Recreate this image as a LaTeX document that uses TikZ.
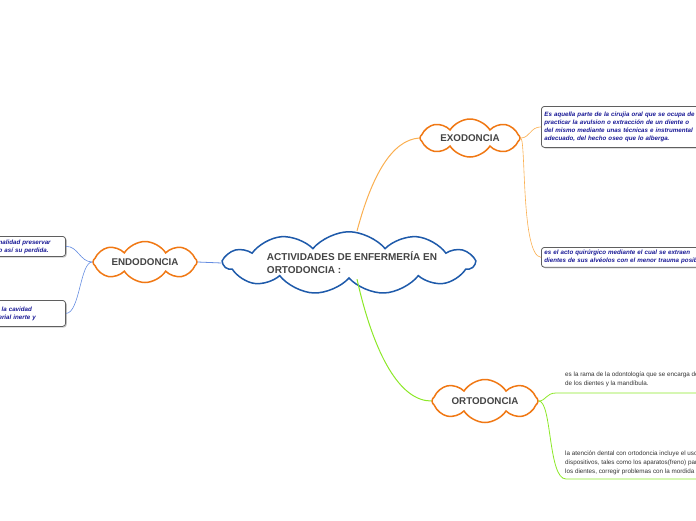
\documentclass[tikz,border=0pt]{standalone}
\usepackage{fontspec}
\setmainfont{Liberation Sans}
\usepackage{tikz}
\usetikzlibrary{shapes.symbols, shadows}
\definecolor{cloudblue}{RGB}{30, 90, 170}
\definecolor{cloudorange}{RGB}{240, 120, 20}
\definecolor{labelgray}{RGB}{68, 68, 68}
\definecolor{notegray}{RGB}{95, 95, 95}
\definecolor{notenavy}{RGB}{25, 25, 150}
\definecolor{exoline}{RGB}{250, 175, 80}
\definecolor{ortoline}{RGB}{140, 232, 40}
\definecolor{endoline}{RGB}{100, 140, 225}

\begin{document}
\begin{tikzpicture}[x=1pt, y=-1pt,
  maincloud/.style={cloud, cloud puffs=11, cloud puff arc=100, cloud ignores aspect,
              draw=cloudblue, line width=1.5pt, fill=white, inner sep=0pt,
              minimum width=250pt, minimum height=52pt,
              font=\fontsize{10}{13}\selectfont\bfseries, text=labelgray, align=left},
  topic/.style={cloud, cloud puffs=8, cloud puff arc=115, cloud ignores aspect,
              draw=cloudorange, line width=1.5pt, fill=white,
              minimum width=104pt, minimum height=41pt,
              font=\fontsize{9.8}{12}\selectfont\bfseries, text=labelgray},
  note/.style={draw=notegray, line width=0.8pt, rounded corners=3pt, fill=white,
              drop shadow={shadow xshift=1.2pt, shadow yshift=-1.2pt, fill=black!40},
              font=\fontsize{6.2}{8}\selectfont\bfseries\itshape, text=notenavy,
              align=left, inner sep=3pt},
  plain/.style={font=\fontsize{6.3}{8.6}\selectfont, text=black!80, align=left, inner sep=0pt},
  exolink/.style={exoline, line width=0.6pt},
  ortolink/.style={ortoline, line width=0.8pt},
  endolink/.style={endoline, line width=0.6pt}]
  \useasboundingbox (0,0) rectangle (696,520);
  \clip (0,0) rectangle (696,520);

  % central topic and branches
  \node[maincloud] (main) at (349,263) {\hspace*{6pt}ACTIVIDADES DE ENFERMERÍA EN\\\hspace*{6pt}ORTODONCIA :};
  \node[topic] (endo) at (145,262) {ENDODONCIA};
  \node[topic, minimum width=100pt, minimum height=38pt] (exo) at (470,138) {EXODONCIA};
  \node[topic, minimum width=106pt, minimum height=43pt] (orto) at (485,401) {ORTODONCIA};

  % notes
  \node[note, anchor=north west, text width=180pt, minimum height=41pt] (exonote1) at (541,106)
    {Es aquella parte de la cirujia oral que se ocupa de\\
     practicar la avulsion o extracción de un diente o\\
     del mismo mediante unas técnicas e instrumental\\
     adecuado, del hecho oseo que lo alberga.};
  \node[note, anchor=north west, text width=180pt, minimum height=19pt] (exonote2) at (541,247)
    {es el acto quirúrgico mediante el cual se extraen\\
     dientes de sus alvéolos con el menor trauma posible};
  \node[note, anchor=north east, text width=64pt, minimum height=20pt] (endonote1) at (66,236)
    {nalidad preservar\\o así su perdida.};
  \node[note, anchor=north east, text width=64pt, minimum height=26pt] (endonote2) at (66,300)
    {\hspace*{3pt}la cavidad\\erial inerte y};
  \node[plain, anchor=north west] (ortonote1) at (565,372)
    {es la rama de la odontología que se encarga de\\de los dientes y la mandíbula.};
  \node[plain, anchor=north west] (ortonote2) at (565,451)
    {la atención dental con ortodoncia incluye el uso\\
     dispositivos, tales como los aparatos(freno) para\\
     los dientes, corregir problemas con la mordida};
  \coordinate (u1) at (556,393);
  \coordinate (u1end) at (700,393);
  \coordinate (u2) at (566,479);
  \coordinate (u2end) at (700,479);

  % connectors
  \draw[endoline, line width=0.8pt] (main.west) -- (endo.east);
  \draw[exoline, line width=1pt] ([xshift=8pt]main.north) .. controls (372,175) and (392,140) .. (exo.west);
  \draw[ortolink, line width=1pt] ([xshift=8pt]main.south) .. controls (374,355) and (400,401) .. (orto.west);
  \draw[exolink] (exo.east) .. controls (530,138) and (530,127) .. (exonote1.west);
  \draw[exolink] (exo.east) .. controls (526,140) and (521,256) .. (exonote2.west);
  \draw[endolink] (endo.west) .. controls (80,262) and (78,246) .. (endonote1.east);
  \draw[endolink] (endo.west) .. controls (80,262) and (80,313) .. (endonote2.east);
  \draw[ortolink] (orto.east) .. controls (546,401) and (546,393) .. (u1) -- (u1end);
  \draw[ortolink] (orto.east) .. controls (552,401) and (548,479) .. (u2) -- (u2end);
\end{tikzpicture}
\end{document}
